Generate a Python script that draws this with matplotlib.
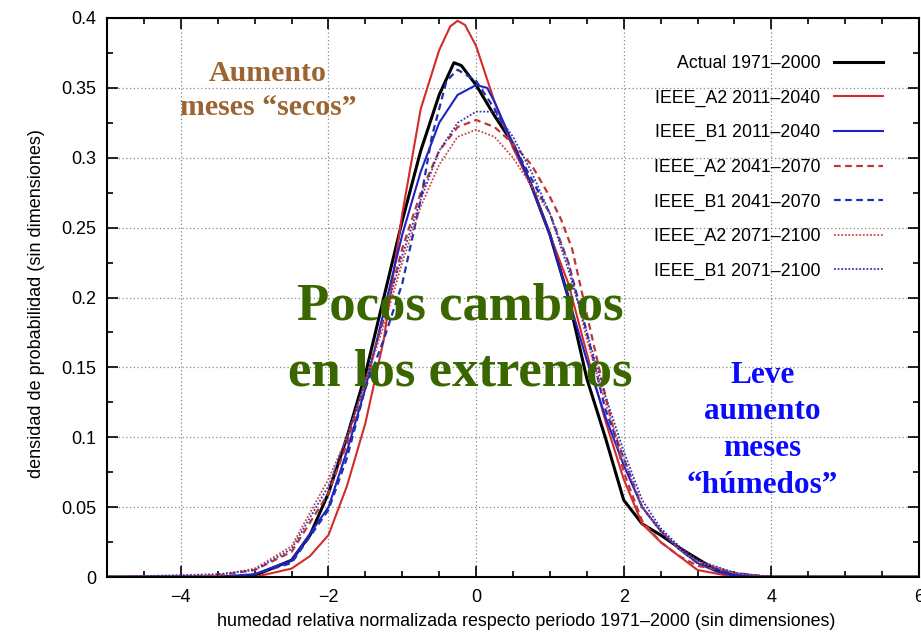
import matplotlib
matplotlib.use("Agg")
import matplotlib.pyplot as plt
from matplotlib.ticker import MultipleLocator, FuncFormatter

# ---------------- data ----------------
x_actual = [-5, -3.5, -3.0, -2.5, -2.25, -2.0, -1.75, -1.5, -1.25, -1.0, -0.75, -0.5, -0.3, -0.2, 0.0, 0.25, 0.5, 0.75, 1.0, 1.25, 1.5, 1.75, 2.0, 2.25, 2.5, 2.75, 3.0, 3.25, 3.5, 4.0, 6]
y_actual = [0, 0.0, 0.001, 0.012, 0.03, 0.06, 0.1, 0.145, 0.2, 0.255, 0.305, 0.345, 0.368, 0.366, 0.352, 0.33, 0.31, 0.28, 0.245, 0.2, 0.142, 0.1, 0.055, 0.038, 0.03, 0.021, 0.013, 0.005, 0.001, 0.0, 0]

x_a2_2040 = [-5, -3.0, -2.5, -2.25, -2.0, -1.75, -1.5, -1.25, -1.0, -0.75, -0.5, -0.35, -0.25, -0.15, 0.0, 0.25, 0.5, 0.75, 1.0, 1.25, 1.5, 1.75, 2.0, 2.25, 2.5, 2.75, 3.0, 3.5, 6]
y_a2_2040 = [0, 0.0, 0.006, 0.015, 0.03, 0.065, 0.11, 0.17, 0.26, 0.335, 0.377, 0.394, 0.398, 0.395, 0.38, 0.34, 0.307, 0.28, 0.245, 0.21, 0.16, 0.112, 0.07, 0.038, 0.025, 0.015, 0.005, 0.0, 0]

x_b1_2040 = [-5, -3.5, -3.0, -2.5, -2.0, -1.75, -1.5, -1.25, -1.0, -0.75, -0.5, -0.25, 0.0, 0.15, 0.25, 0.5, 0.75, 1.0, 1.25, 1.5, 1.75, 2.0, 2.25, 2.5, 2.75, 3.0, 3.25, 3.5, 4.0, 6]
y_b1_2040 = [0, 0.0, 0.002, 0.012, 0.05, 0.09, 0.135, 0.19, 0.245, 0.29, 0.325, 0.345, 0.352, 0.35, 0.34, 0.31, 0.28, 0.245, 0.2, 0.155, 0.115, 0.08, 0.05, 0.033, 0.02, 0.01, 0.004, 0.001, 0.0, 0]

x_a2_2070 = [-5, -3.5, -3.0, -2.5, -2.0, -1.75, -1.5, -1.25, -1.0, -0.75, -0.5, -0.25, 0.0, 0.25, 0.5, 0.75, 1.0, 1.15, 1.3, 1.5, 1.75, 2.0, 2.25, 2.5, 2.75, 3.0, 3.5, 4.0, 6]
y_a2_2070 = [0, 0.001, 0.005, 0.018, 0.06, 0.095, 0.14, 0.185, 0.235, 0.275, 0.305, 0.322, 0.327, 0.322, 0.31, 0.295, 0.272, 0.256, 0.235, 0.188, 0.13, 0.075, 0.04, 0.025, 0.015, 0.008, 0.003, 0.0, 0]

x_b1_2070 = [-5, -3.5, -3.0, -2.5, -2.0, -1.75, -1.5, -1.25, -1.0, -0.75, -0.6, -0.4, -0.25, 0.0, 0.25, 0.5, 0.75, 1.0, 1.25, 1.5, 1.75, 2.0, 2.25, 2.5, 2.75, 3.0, 3.5, 4.0, 6]
y_b1_2070 = [0, 0.0, 0.002, 0.01, 0.048, 0.085, 0.135, 0.17, 0.21, 0.27, 0.315, 0.355, 0.363, 0.355, 0.335, 0.31, 0.285, 0.26, 0.225, 0.175, 0.12, 0.085, 0.05, 0.033, 0.02, 0.01, 0.002, 0.0, 0]

x_a2_2100 = [-5, -3.5, -3.0, -2.5, -2.0, -1.75, -1.5, -1.25, -1.0, -0.75, -0.5, -0.25, 0.0, 0.25, 0.5, 0.75, 1.0, 1.25, 1.5, 1.75, 2.0, 2.25, 2.5, 2.75, 3.0, 3.5, 4.0, 6]
y_a2_2100 = [0, 0.001, 0.006, 0.022, 0.07, 0.1, 0.14, 0.18, 0.225, 0.265, 0.295, 0.315, 0.32, 0.315, 0.3, 0.28, 0.26, 0.225, 0.17, 0.125, 0.085, 0.05, 0.033, 0.02, 0.011, 0.003, 0.0, 0]

x_b1_2100 = [-5, -3.5, -3.0, -2.5, -2.0, -1.75, -1.5, -1.25, -1.0, -0.75, -0.5, -0.25, 0.0, 0.25, 0.5, 0.75, 1.0, 1.25, 1.5, 1.75, 2.0, 2.25, 2.5, 2.75, 3.0, 3.5, 4.0, 6]
y_b1_2100 = [0, 0.002, 0.005, 0.02, 0.065, 0.1, 0.14, 0.185, 0.23, 0.27, 0.305, 0.325, 0.333, 0.333, 0.315, 0.29, 0.26, 0.22, 0.175, 0.13, 0.09, 0.055, 0.035, 0.022, 0.012, 0.003, 0.0, 0]

labels = ["Actual 1971\u20132000", "IEEE_A2 2011\u20132040", "IEEE_B1 2011\u20132040",
          "IEEE_A2 2041\u20132070", "IEEE_B1 2041\u20132070",
          "IEEE_A2 2071\u20132100", "IEEE_B1 2071\u20132100"]

x_ticks = [-4, -2, 0, 2, 4, 6]
y_ticks = [0, 0.05, 0.1, 0.15, 0.2, 0.25, 0.3, 0.35, 0.4]

# ---------------- figure ----------------
plt.rcParams['font.family'] = ['Liberation Sans', 'DejaVu Sans']
fig = plt.figure(figsize=(9.21, 6.32), dpi=100)
ax = fig.add_axes([107/921, 55/632, (919-107)/921, (577-18)/632])

RED = '#d42a2a'
BLUE = '#1f22c8'
series = [
    (x_actual, y_actual, 'black', '-', 2.2),
    (x_a2_2040, y_a2_2040, RED, '-', 1.5),
    (x_b1_2040, y_b1_2040, BLUE, '-', 1.5),
    (x_a2_2070, y_a2_2070, '#c03535', (0, (3, 2)), 1.6),
    (x_b1_2070, y_b1_2070, '#2030b0', (0, (3, 2)), 1.6),
    (x_a2_2100, y_a2_2100, '#d04545', (0, (1, 1)), 1.3),
    (x_b1_2100, y_b1_2100, '#3535b0', (0, (1, 1)), 1.3),
]
handles = []
for (xs, ys, c, ls, lw), lab in zip(series, labels):
    h, = ax.plot(xs, ys, color=c, linestyle=ls, linewidth=lw, label=lab,
                 solid_joinstyle='round')
    handles.append(h)

ax.set_xlim(-5, 6)
ax.set_ylim(0, 0.4)
ax.set_xticks(x_ticks)
ax.set_yticks(y_ticks)
ax.xaxis.set_minor_locator(MultipleLocator(0.5))
ax.yaxis.set_minor_locator(MultipleLocator(0.025))
ax.yaxis.set_major_formatter(FuncFormatter(lambda v, p: '%g' % round(v, 3)))
ax.xaxis.set_major_formatter(FuncFormatter(lambda v, p: ('%g' % v).replace('-', '\u2212')))
ax.tick_params(which='both', direction='in', top=True, right=True, labelsize=13, width=1.2)
ax.tick_params(which='major', length=8)
ax.tick_params(which='minor', length=4)
ax.tick_params(axis='x', pad=9)
ax.tick_params(axis='y', pad=8)
for s in ax.spines.values():
    s.set_linewidth(1.5)
ax.grid(True, which='major', linestyle=(0, (1, 2)), color='#888888', linewidth=0.9)

ax.set_xlabel('humedad relativa normalizada respecto periodo 1971\u20132000 (sin dimensiones)', fontsize=12.9, labelpad=5)
ax.set_ylabel('densidad de probabilidad (sin dimensiones)', fontsize=13, labelpad=11)
ax.xaxis.label.set_x(0.516)
ax.yaxis.label.set_y(0.49)

leg = ax.legend(handles=handles, loc='upper right', bbox_to_anchor=(0.975, 0.962),
                frameon=False, markerfirst=False, fontsize=12.8, handlelength=2.75,
                labelspacing=0.98, handletextpad=0.75)
for t in leg.get_texts():
    t.set_ha('right')
leg._legend_box.align = 'right'

serif = ['Liberation Serif', 'DejaVu Serif']
ax.text(-2.82, 0.348, 'Aumento\nmeses \u201csecos\u201d', color='#9c6430', fontsize=21.5,
        fontweight='bold', family=serif, ha='center', va='center', linespacing=1.34)
ax.text(-0.21, 0.170, 'Pocos cambios\nen los extremos', color='#3a6600', fontsize=38,
        fontweight='bold', family=serif, ha='center', va='center', linespacing=1.47)
ax.text(3.88, 0.105, 'Leve\naumento\nmeses\n\u201ch\u00famedos\u201d', color='#0a0aff', fontsize=22.5,
        fontweight='bold', family=serif, ha='center', va='center', linespacing=1.35)

fig.savefig('out.png', dpi=100)
